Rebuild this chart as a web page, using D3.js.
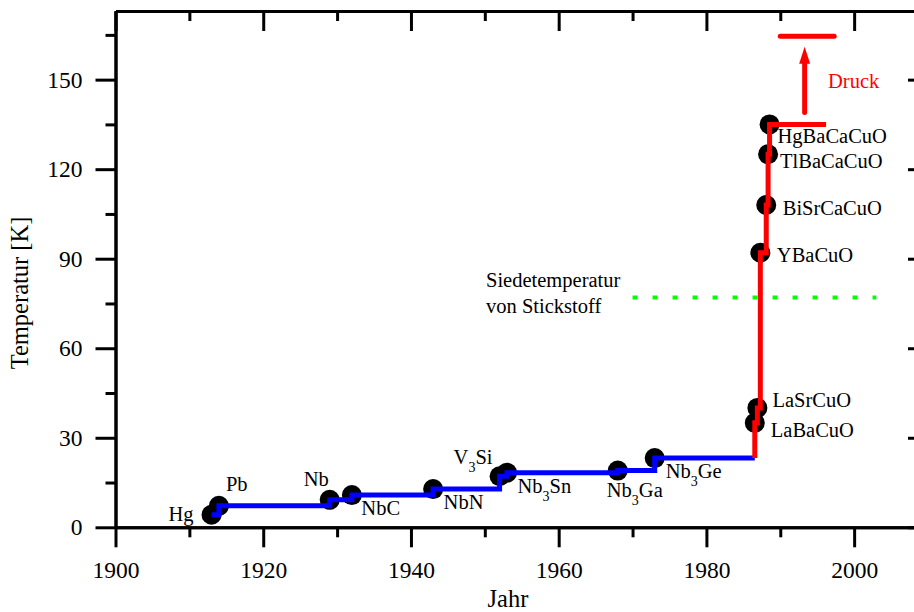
<!DOCTYPE html>
<html>
<head>
<meta charset="utf-8">
<script src="https://cdn.jsdelivr.net/npm/d3@7"></script>
<style>
  body { margin: 0; background: #fff; }
  svg { display: block; font-family: "Liberation Serif", "Times New Roman", serif; }
  .axis path, .axis line { stroke: #000; stroke-width: 3; }
  .axis text { font-size: 23.5px; fill: #000; font-family: "Liberation Serif", serif; }
</style>
</head>
<body>
<svg id="chart" width="914" height="612"></svg>
<script>

// Sprungtemperaturen der Supraleiter
let names = ['Hg', 'Pb', 'Nb', 'NbC', 'NbN', 'V3Si', 'Nb3Sn', 'Nb3Ga', 'Nb3Ge',
  'LaBaCuO', 'LaSrCuO', 'YBaCuO', 'BiSrCaCuO', 'TlBaCaCuO', 'HgBaCaCuO'];
let years = [1913, 1914, 1929, 1932, 1943, 1952, 1953, 1968, 1973,
  1986.55, 1986.9, 1987.3, 1988.1, 1988.35, 1988.55];
let tc = [4.2, 7.2, 9.2, 10.8, 12.8, 17.1, 18.3, 19, 23.2,
  35, 40, 92, 108, 125, 135];
let firstCuprate = 9;          // ab hier rot
let redLineEnd = 1996.2;       // rote Linie endet hier

// Druck-Pfeil
let pressureYear = 1993.3;
let pressureFrom = 139;
let pressureTo = 161;
let pressureBarYears = [1990, 1997.3];
let pressureBarT = 164.5;

// Siedetemperatur von Stickstoff
let nitrogenT = 77;
let nitrogenYears = [1970, 2003];

let xMajor = [1900, 1920, 1940, 1960, 1980, 2000];
let xMinor = [1910, 1930, 1950, 1970, 1990, 2010];
let yMajor = [0, 30, 60, 90, 120, 150];
let yMinor = [15, 45, 75, 105, 135, 165];

// Beschriftungen: Versatz zum Punkt (px)
let labelPos = {
  'Hg': [-18, 6, 'end'], 'Pb': [7, -15, 'start'], 'Nb': [-1, -14, 'end'],
  'NbC': [9.5, 20, 'start'], 'NbN': [10.5, 20, 'start'], 'V3Si': [-46, -12, 'start'],
  'Nb3Sn': [10.5, 20.5, 'start'], 'Nb3Ga': [-11, 26.5, 'start'], 'Nb3Ge': [11, 20, 'start'],
  'LaBaCuO': [16, 14, 'start'], 'LaSrCuO': [15, -1, 'start'], 'YBaCuO': [16.5, 9, 'start'],
  'BiSrCaCuO': [16.5, 10, 'start'], 'TlBaCaCuO': [12, 14, 'start'], 'HgBaCaCuO': [8, 18.5, 'start']
};

let svg = d3.select('#chart');

let x = d3.scaleLinear().domain([1900, 2010]).range([115.5, 928]);
let y = d3.scaleLinear().domain([0, 173]).range([527.3, 11]);

// Achsen
svg.append('g').attr('class', 'axis')
  .attr('transform', 'translate(0,' + y(0) + ')')
  .call(d3.axisBottom(x).tickValues(xMajor).tickFormat(d3.format('d'))
    .tickSize(20).tickSizeOuter(0).tickPadding(14));
svg.append('g').attr('class', 'axis')
  .attr('transform', 'translate(0,' + y(0) + ')')
  .call(d3.axisBottom(x).tickValues(xMinor).tickFormat('').tickSize(10).tickSizeOuter(0));

svg.append('g').attr('class', 'axis')
  .attr('transform', 'translate(' + x(1900) + ',0)')
  .call(d3.axisLeft(y).tickValues(yMajor).tickSize(20).tickSizeOuter(0).tickPadding(13));
svg.append('g').attr('class', 'axis')
  .attr('transform', 'translate(' + x(1900) + ',0)')
  .call(d3.axisLeft(y).tickValues(yMinor).tickFormat('').tickSize(10).tickSizeOuter(0));

svg.append('g').attr('class', 'axis')
  .attr('transform', 'translate(0,' + y(173) + ')')
  .call(d3.axisTop(x).tickValues(xMajor).tickFormat('').tickSize(-20).tickSizeOuter(0));
svg.append('g').attr('class', 'axis')
  .attr('transform', 'translate(0,' + y(173) + ')')
  .call(d3.axisTop(x).tickValues(xMinor).tickFormat('').tickSize(-10).tickSizeOuter(0));

svg.append('g').attr('class', 'axis')
  .attr('transform', 'translate(' + x(2010) + ',0)')
  .call(d3.axisRight(y).tickValues(yMajor).tickFormat('').tickSize(-20).tickSizeOuter(0));
svg.append('g').attr('class', 'axis')
  .attr('transform', 'translate(' + x(2010) + ',0)')
  .call(d3.axisRight(y).tickValues(yMinor).tickFormat('').tickSize(-10).tickSizeOuter(0));

// Achsentitel
svg.append('text')
  .attr('transform', 'translate(28,293) rotate(-90)')
  .attr('text-anchor', 'middle')
  .style('font-size', '24.5px')
  .text('Temperatur [K]');
svg.append('text')
  .attr('x', 508).attr('y', 607)
  .attr('text-anchor', 'middle')
  .style('font-size', '24.5px')
  .text('Jahr');

// Stickstoff
svg.append('line')
  .attr('x1', x(nitrogenYears[0])).attr('x2', x(nitrogenYears[1]))
  .attr('y1', y(nitrogenT)).attr('y2', y(nitrogenT))
  .attr('stroke', '#00ff00').attr('stroke-width', 4)
  .attr('stroke-dasharray', '5,15');

let nText = svg.append('text')
  .attr('x', 486).attr('y', 286.5)
  .style('font-size', '20.5px');
nText.append('tspan').attr('x', 486).text('Siedetemperatur');
nText.append('tspan').attr('x', 486).attr('dy', 26.7).text('von Stickstoff');

// Punkte
let points = years.map(function(d, i) { return { year: d, t: tc[i], name: names[i] }; });

svg.append('g').selectAll('circle')
  .data(points)
  .enter()
  .append('circle')
  .attr('cx', function(d) { return x(d.year); })
  .attr('cy', function(d) { return y(d.t); })
  .attr('r', 10)
  .attr('fill', '#000');

// Stufenlinien
let stepLine = d3.line()
  .x(function(d) { return x(d[0]); })
  .y(function(d) { return y(d[1]); })
  .curve(d3.curveStepAfter);

let blueData = [];
for (let i = 0; i < firstCuprate; i++) blueData.push([years[i], tc[i]]);
blueData.push([years[firstCuprate], tc[firstCuprate - 1]]);

let redData = [[years[firstCuprate], tc[firstCuprate - 1]]];
for (let i = firstCuprate; i < years.length; i++) redData.push([years[i], tc[i]]);
redData.push([redLineEnd, tc[tc.length - 1]]);

svg.append('path')
  .attr('d', stepLine(blueData))
  .attr('fill', 'none').attr('stroke', '#0000ff').attr('stroke-width', 5);

svg.append('path')
  .attr('d', stepLine(redData))
  .attr('fill', 'none').attr('stroke', '#ff0000').attr('stroke-width', 5);

// Druck
svg.append('line')
  .attr('x1', x(pressureBarYears[0])).attr('x2', x(pressureBarYears[1]))
  .attr('y1', y(pressureBarT)).attr('y2', y(pressureBarT))
  .attr('stroke', '#ff0000').attr('stroke-width', 5).attr('stroke-linecap', 'round');

let ax = x(pressureYear);
let tipY = y(pressureTo);
svg.append('line')
  .attr('x1', ax).attr('x2', ax)
  .attr('y1', y(pressureFrom)).attr('y2', tipY + 14)
  .attr('stroke', '#ff0000').attr('stroke-width', 5).attr('stroke-linecap', 'round');
svg.append('path')
  .attr('d', 'M' + ax + ',' + tipY + 'L' + (ax - 5.5) + ',' + (tipY + 17) + 'L' + (ax + 5.5) + ',' + (tipY + 17) + 'Z')
  .attr('fill', '#ff0000');

svg.append('text')
  .attr('x', 828).attr('y', 88)
  .attr('fill', '#ff0000')
  .style('font-size', '20.5px')
  .text('Druck');

// Namen mit tiefgestellten Ziffern
svg.append('g').selectAll('text')
  .data(points)
  .enter()
  .append('text')
  .attr('x', function(d) { return x(d.year) + labelPos[d.name][0]; })
  .attr('y', function(d) { return y(d.t) + labelPos[d.name][1]; })
  .attr('text-anchor', function(d) { return labelPos[d.name][2]; })
  .style('font-size', '20.5px')
  .each(function(d) {
    let t = d3.select(this);
    let parts = d.name.match(/\d+|\D+/g);
    let sub = false;
    parts.forEach(function(p) {
      if (/\d/.test(p)) {
        t.append('tspan').attr('dy', 8).style('font-size', '14px').text(p);
        sub = true;
      } else {
        t.append('tspan').attr('dy', sub ? -8 : 0).text(p);
        sub = false;
      }
    });
  });

</script>
</body>
</html>
